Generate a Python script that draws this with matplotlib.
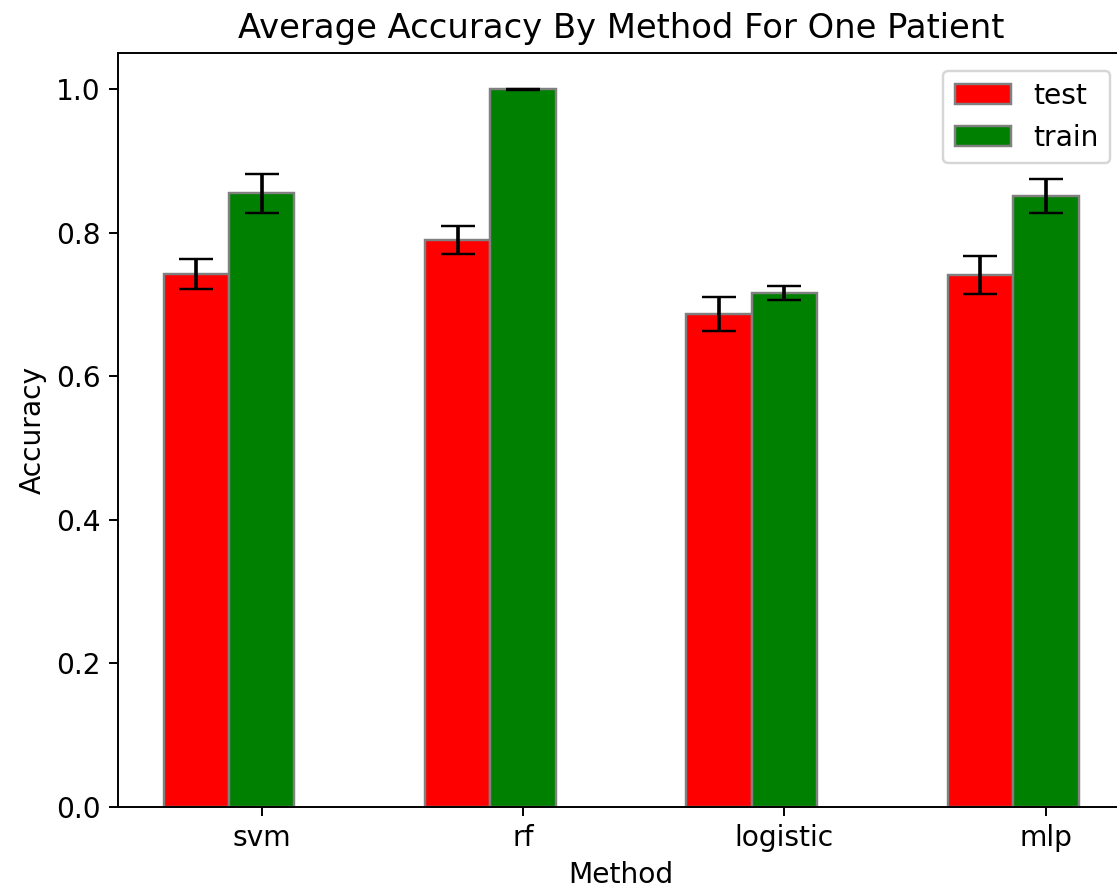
import matplotlib
matplotlib.use("Agg")
import matplotlib.pyplot as plt
import numpy as np

methods = ['svm', 'rf', 'logistic', 'mlp']
test_acc = [0.743, 0.790, 0.687, 0.741]
test_err = [0.021, 0.020, 0.024, 0.026]
train_acc = [0.855, 1.000, 0.716, 0.851]
train_err = [0.027, 0.001, 0.0095, 0.024]

plt.rcParams['font.size'] = 11.6

barWidth = 0.25
r1 = np.arange(len(methods))
r2 = r1 + barWidth

fig = plt.figure(figsize=(1117 / 175, 890 / 175), dpi=175)
ax = fig.add_axes([0.1055, 0.0936, 0.9010, 0.8472])

ax.bar(r1, test_acc, width=barWidth, color='red', edgecolor='grey',
       yerr=test_err, capsize=7, label='test')
ax.bar(r2, train_acc, width=barWidth, color='green', edgecolor='grey',
       yerr=train_err, capsize=7, label='train')

ax.set_xticks(r2)
ax.set_xticklabels(methods)
ax.set_xlabel('Method')
ax.set_ylabel('Accuracy')
ax.set_title('Average Accuracy By Method For One Patient')
ax.legend(loc='upper right', bbox_to_anchor=(1.0, 0.995))

fig.savefig('out.png', dpi=175)
